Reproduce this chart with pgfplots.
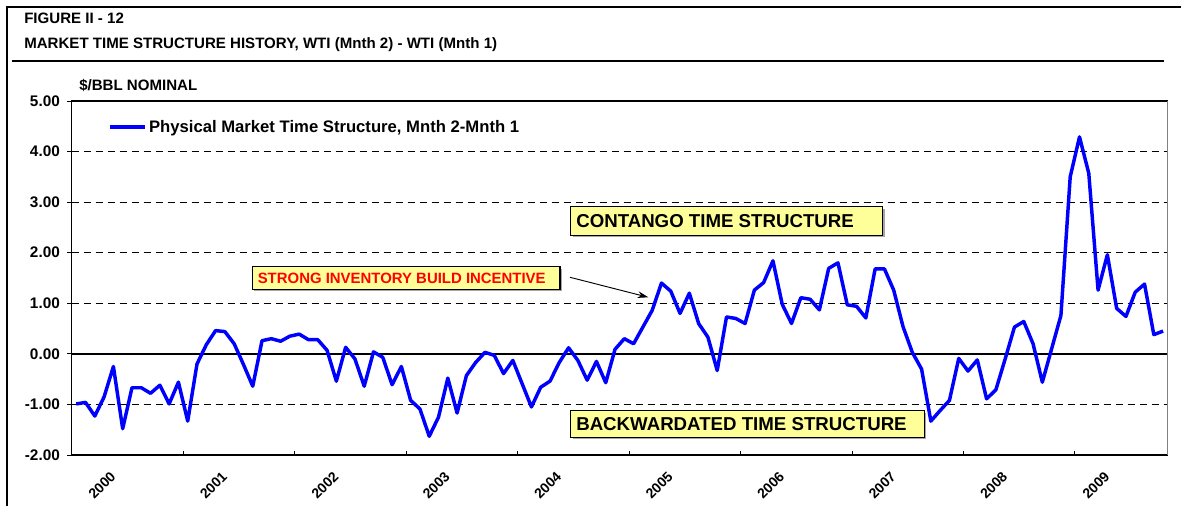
\documentclass[border=0pt]{standalone}
\usepackage{fontspec}
\setmainfont{Liberation Sans}
\usepackage{pgfplots}
\pgfplotsset{compat=1.18}
\usetikzlibrary{arrows.meta}
\definecolor{boxyellow}{HTML}{FFFF99}
\definecolor{lineblue}{HTML}{0000FF}

% monthly WTI Mnth2 - Mnth1 spread, Jan 2000 (0) .. Oct 2009 (117)
\pgfplotstableread{
m v
0 -0.99
1 -0.96
2 -1.23
3 -0.85
4 -0.25
5 -1.48
6 -0.67
7 -0.67
8 -0.78
9 -0.62
10 -0.99
11 -0.56
12 -1.33
13 -0.20
14 0.18
15 0.46
16 0.44
17 0.20
18 -0.21
19 -0.64
20 0.26
21 0.30
22 0.25
23 0.35
24 0.39
25 0.28
26 0.28
27 0.07
28 -0.54
29 0.13
30 -0.10
31 -0.64
32 0.04
33 -0.07
34 -0.61
35 -0.25
36 -0.92
37 -1.09
38 -1.63
39 -1.25
40 -0.48
41 -1.17
42 -0.43
43 -0.17
44 0.03
45 -0.03
46 -0.39
47 -0.13
48 -0.59
49 -1.05
50 -0.66
51 -0.54
52 -0.17
53 0.12
54 -0.13
55 -0.52
56 -0.15
57 -0.57
58 0.09
59 0.30
60 0.20
61 0.53
62 0.86
63 1.40
64 1.24
65 0.80
66 1.20
67 0.60
68 0.33
69 -0.33
70 0.73
71 0.70
72 0.60
73 1.26
74 1.41
75 1.84
76 0.98
77 0.60
78 1.11
79 1.08
80 0.87
81 1.69
82 1.80
83 0.97
84 0.94
85 0.71
86 1.68
87 1.68
88 1.26
89 0.54
90 0.03
91 -0.30
92 -1.33
93 -1.12
94 -0.92
95 -0.09
96 -0.34
97 -0.12
98 -0.89
99 -0.71
100 -0.10
101 0.53
102 0.64
103 0.20
104 -0.56
105 0.10
106 0.76
107 3.50
108 4.29
109 3.57
110 1.26
111 1.96
112 0.90
113 0.74
114 1.22
115 1.38
116 0.38
117 0.45
}\spread

\begin{document}
\begin{tikzpicture}
\begin{axis}[
    at={(53.7pt,38.25pt)}, anchor=south west,
    scale only axis, width=822.1pt, height=265.5pt,
    xmin=-0.5, xmax=117.5, ymin=-2, ymax=5,
    ytick={-2,-1,...,5},
    yticklabel={\pgfmathprintnumber[fixed,fixed zerofill,precision=2]{\tick}},
    /pgf/number format/assume math mode=true,
    yticklabel style={font=\bfseries\fontsize{11.5}{13}\selectfont, xshift=-2pt},
    ytick pos=left, ytick align=outside, major tick length=3.3pt,
    ytick style={black, line width=0.6pt},
    xtick={5.5,17.5,29.5,41.5,53.5,65.5,77.5,89.5,101.5,112.5},
    xticklabels={2000,2001,2002,2003,2004,2005,2006,2007,2008,2009},
    xtick style={draw=none},
    xticklabel style={xshift=-8.3pt, yshift=-12pt, rotate=45, anchor=east,
        font=\bfseries\fontsize{10.5}{12}\selectfont},
    ymajorgrids, grid style={black, line width=0.6pt, dash pattern=on 5.25pt off 3.75pt},
    axis line style={black, line width=0.9pt},
    legend style={draw=none, fill=none, at={(0.0332,0.9266)}, anchor=west,
        inner sep=0pt, font=\bfseries\fontsize{12.5}{14}\selectfont,
        nodes={inner sep=2pt}},
    legend image code/.code={\draw[#1] (-2pt,0pt) -- (24pt,0pt);},
]
\addplot[black, line width=1.5pt, forget plot] coordinates {(-0.5,0) (117.5,0)};
\addplot[lineblue, line width=2.6pt, line join=round] table[x=m, y=v] {\spread};
\addlegendentry{Physical Market Time Structure, Mnth 2-Mnth 1}
\pgfplotsinvokeforeach{11.5,23.5,35.5,47.5,59.5,71.5,83.5,95.5,107.5}{
  \draw[black, line width=0.6pt] (axis cs:#1,-2) -- ++(0pt,3.3pt);
}
\draw[gray, line width=1.1pt] (rel axis cs:1,0) -- (rel axis cs:1,1);
\end{axis}

\begin{scope}[x=0.75pt, y=-0.75pt, yshift=379.5pt]
  % frame and header
  \draw[black, line width=0.9pt] (7,506) -- (7,7) -- (1181,7);
  \draw[black, line width=1.2pt] (12,61) -- (1164,61);
  \node[anchor=base west, inner sep=0pt, font=\bfseries\fontsize{11.3}{13}\selectfont] at (24,24) {FIGURE II - 12};
  \node[anchor=base west, inner sep=0pt, font=\bfseries\fontsize{11.3}{13}\selectfont] at (24,49) {MARKET TIME STRUCTURE HISTORY, WTI (Mnth 2) - WTI (Mnth 1)};
  \node[anchor=base west, inner sep=0pt, font=\bfseries\fontsize{11.3}{13}\selectfont] at (79,91) {\$/BBL NOMINAL};
  % annotation boxes
  \fill[gray!70] (572.7,208.7) rectangle (884.7,237.3);
  \filldraw[fill=boxyellow, draw=black, line width=0.8pt] (570.7,206.7) rectangle (882.7,235.3);
  \node[anchor=west, inner sep=0pt, font=\bfseries\fontsize{14}{16}\selectfont] at (576,221) {CONTANGO TIME STRUCTURE};
  \fill[gray!70] (572.7,412.7) rectangle (926.3,439.3);
  \filldraw[fill=boxyellow, draw=black, line width=0.8pt] (570.7,410.7) rectangle (924.3,437.3);
  \node[anchor=west, inner sep=0pt, font=\bfseries\fontsize{14}{16}\selectfont] at (576,424) {BACKWARDATED TIME STRUCTURE};
  \fill[gray!70] (254.3,268.7) rectangle (562,291.3);
  \filldraw[fill=boxyellow, draw=black, line width=0.8pt] (252.3,266.7) rectangle (560,289.3);
  \node[anchor=west, inner sep=0pt, text=red, font=\bfseries\fontsize{11.2}{13}\selectfont] at (257.5,278) {STRONG INVENTORY BUILD INCENTIVE};
  \draw[black, line width=0.7pt, -{Stealth[length=8pt, width=5pt]}] (570,277.3) -- (648.3,297.3);
  \pgfresetboundingbox
  \path[use as bounding box] (0,0) rectangle (1181,506);
\end{scope}
\end{tikzpicture}
\end{document}
